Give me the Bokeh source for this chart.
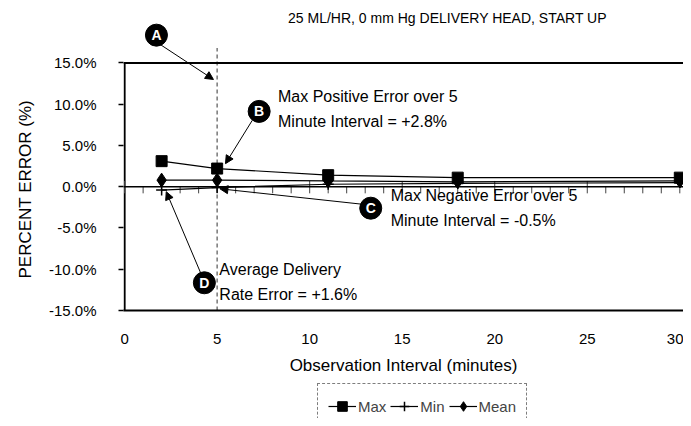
from bokeh.plotting import figure
from bokeh.layouts import column
from bokeh.models import (Range1d, FixedTicker, Span, Arrow, NormalHead, Label, Title,
                          Legend, LegendItem, ColumnDataSource, PrintfTickFormatter)
from bokeh.core.properties import value
from bokeh.embed import file_html
from bokeh.resources import INLINE

# ---- data ----
interval = [2, 5, 11, 18, 30]
max_err = [3.1, 2.2, 1.4, 1.1, 1.1]
min_err = [-0.4, -0.1, 0.3, 0.4, 0.5]
mean_err = [0.8, 0.8, 0.7, 0.6, 0.7]
x_ticks = [0, 5, 10, 15, 20, 25, 30]
y_ticks = [-15, -10, -5, 0, 5, 10, 15]
series_names = ["Max", "Min", "Mean"]
title_text = "25 ML/HR, 0 mm Hg DELIVERY HEAD, START UP"
y_title = "PERCENT ERROR (%)"
x_title = "Observation Interval (minutes)"
marker_interval = 5

callout_letters = ["A", "B", "C", "D"]
callout_x = [1.72, 7.27, 13.3, 4.31]
callout_y = [18.37, 9.13, -2.6, -11.64]
arrow_start = [(1.95, 17.2), (6.9, 8.05), (12.75, -2.1), (4.1, -10.4)]
arrow_end = [(4.8, 13.0), (5.45, 2.8), (5.15, -0.25), (2.25, -0.6)]
notes = [
    ("Max Positive Error over 5", 8.29, 10.93),
    ("Minute Interval = +2.8%", 8.29, 7.93),
    ("Max Negative Error over 5", 14.38, -1.1),
    ("Minute Interval = -0.5%", 14.38, -4.1),
    ("Average Delivery", 5.12, -10.08),
    ("Rate Error = +1.6%", 5.12, -13.08),
]

FONT = "Liberation Sans"
markers = ["square", "cross", "diamond"]
msizes = [11, 11, 14]

p = figure(width=683, height=377, output_backend="svg", toolbar_location=None,
           x_range=Range1d(-0.06, 30.2), y_range=Range1d(-15, 21.6),
           min_border_left=123, min_border_right=0, min_border_top=8,
           min_border_bottom=64)
p.outline_line_color = None
p.xgrid.visible = False
p.ygrid.visible = False

# x axis
p.xaxis.ticker = FixedTicker(ticks=x_ticks)
p.xaxis.major_tick_line_color = None
p.xaxis.minor_tick_line_color = None
p.xaxis.axis_line_width = 2
p.xaxis.axis_line_color = "black"
p.xaxis.major_label_standoff = 17
p.xaxis.major_label_text_font = FONT
p.xaxis.major_label_text_font_size = "15px"
p.xaxis.major_label_text_color = "black"
p.xaxis.axis_label = x_title
p.xaxis.axis_label_text_font = FONT
p.xaxis.axis_label_text_font_size = "17px"
p.xaxis.axis_label_text_font_style = "normal"
p.xaxis.axis_label_text_color = "black"
p.xaxis.axis_label_standoff = 9

# y axis
p.yaxis.ticker = FixedTicker(ticks=y_ticks)
p.yaxis.formatter = PrintfTickFormatter(format="%.1f%%")
p.yaxis.axis_line_color = None
p.yaxis.major_tick_line_color = "black"
p.yaxis.major_tick_line_width = 1.5
p.yaxis.major_tick_in = 0
p.yaxis.major_tick_out = 5
p.yaxis.minor_tick_line_color = None
p.yaxis.major_label_standoff = 22
p.yaxis.major_label_text_font = FONT
p.yaxis.major_label_text_font_size = "15px"
p.yaxis.major_label_text_color = "black"

# y title as a side title so that it can be centred on the -15..15 span
p.add_layout(Title(text=y_title, align="left", offset=32, text_font=FONT,
                   text_font_size="17px", text_font_style="normal", text_color="black",
                   standoff=22), "left")

# frame lines
p.segment(x0=[0], y0=[min(y_ticks)], x1=[0], y1=[max(y_ticks)], line_color="black", line_width=2)
p.add_layout(Span(location=max(y_ticks), dimension="width", line_color="black", line_width=2))
p.add_layout(Span(location=0, dimension="width", line_color="black", line_width=1.5))

# ticks on zero line
tick_x = list(range(0, 31))
tick_top = [0.7 if t % 5 == 0 else 0 for t in tick_x]
tick_src = ColumnDataSource(dict(x=tick_x, top=tick_top, bot=[-0.8] * len(tick_x)))
p.segment(x0="x", y0="top", x1="x", y1="bot", source=tick_src, line_color="#444444", line_width=1)

# dashed marker line
p.segment(x0=[marker_interval], y0=[min(y_ticks)], x1=[marker_interval], y1=[16.8],
          line_color="#777777", line_width=1.5, line_dash="4 3")

# series
src = ColumnDataSource(dict(x=interval, mx=max_err, mn=min_err, me=mean_err))
for col, mk, ms in zip(["mx", "mn", "me"], markers, msizes):
    p.line("x", col, source=src, line_color="black", line_width=1.2)
    p.scatter("x", col, source=src, marker=mk, size=ms, line_color="black",
              fill_color="black", line_width=1.5 if mk == "cross" else 1)

# callouts
for (xs, ys), (xe, ye) in zip(arrow_start, arrow_end):
    p.add_layout(Arrow(end=NormalHead(size=8, fill_color="black", line_color="black"),
                       x_start=xs, y_start=ys, x_end=xe, y_end=ye,
                       line_color="black", line_width=1))
p.scatter(x=callout_x, y=callout_y, size=22, color="black")
p.text(x=callout_x, y=callout_y, text=callout_letters, text_color="white",
       text_font=value(FONT), text_font_size="14px", text_font_style="bold",
       text_align="center", text_baseline="middle")
for txt, tx, ty in notes:
    p.add_layout(Label(x=tx, y=ty, text=txt, text_font=FONT, text_font_size="16px",
                       text_color="black", text_baseline="middle", text_align="left"))

p.add_layout(Label(x=17.45, y=20.4, text=title_text, text_font=FONT, text_font_size="14px",
                   text_color="black", text_baseline="middle", text_align="center"))

# legend strip (separate small figure; series drawn off-range, only legend visible)
lg = figure(width=683, height=41, output_backend="svg", toolbar_location=None,
            x_range=Range1d(100, 101), y_range=Range1d(100, 101),
            min_border_left=0, min_border_right=0, min_border_top=0, min_border_bottom=0)
lg.outline_line_color = None
lg.axis.visible = False
lg.grid.visible = False
items = []
for name, ys, mk, ms in zip(series_names, [max_err, min_err, mean_err], markers, msizes):
    r1 = lg.line(x=interval, y=ys, line_color="black", line_width=1.2)
    r2 = lg.scatter(x=interval, y=ys, marker=mk, size=ms - 1, line_color="black",
                    fill_color="black", line_width=1.5 if mk == "cross" else 1)
    items.append(LegendItem(label=name, renderers=[r1, r2], index=0))
legend = Legend(items=items, orientation="horizontal", location=(194, -11),
                border_line_color="black", border_line_dash="dotted", border_line_width=1,
                label_text_font=FONT, label_text_font_size="15px",
                glyph_width=28, glyph_height=24, spacing=4, padding=10, margin=0,
                label_standoff=2, background_fill_alpha=0)
lg.add_layout(legend)

layout = column(p, lg, spacing=0)
open("out.html", "w").write(file_html(layout, INLINE))
